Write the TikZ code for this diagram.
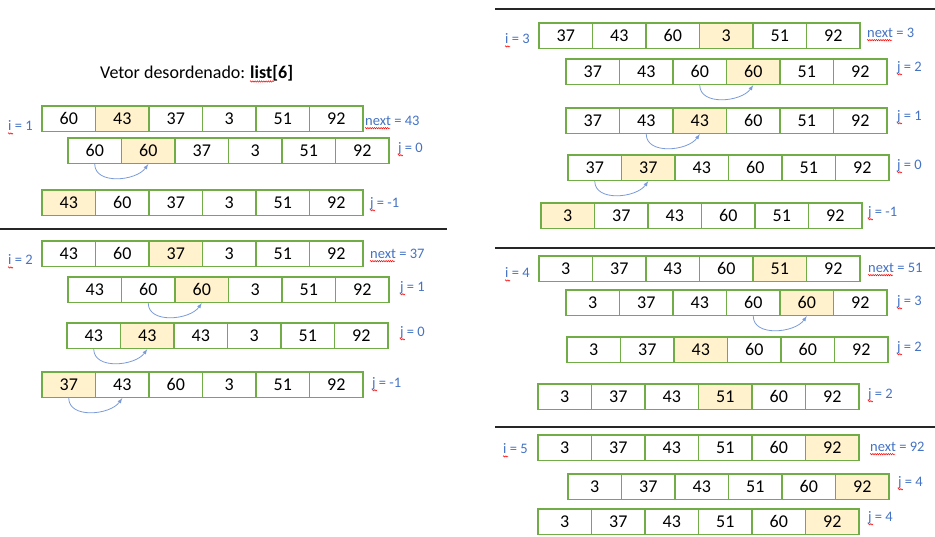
\documentclass[tikz,border=0pt]{standalone}
\usepackage{fontspec}
\setmainfont{Carlito}
\usepackage{tikz}
\usetikzlibrary{positioning,decorations.pathmorphing}

\definecolor{cellgreen}{HTML}{70AD47}
\definecolor{hlfill}{HTML}{FFF2CC}
\definecolor{labelblue}{HTML}{4472C4}
\definecolor{arrowblue}{HTML}{7B9BD8}

% one row of the vector: name, left x, top y, highlighted cell, values
\newcommand{\vrow}[5]{%
	\foreach \v [count=\k] in {#5} {
		\ifnum\k=#4 \def\cellfill{hlfill}\else\def\cellfill{white}\fi
		\node[cell,fill=\cellfill] (#1-\k) at ({#2+(\k-0.5)*53.5},{-#3-12.75}) {\v};
	}%
}

\begin{document}
\begin{tikzpicture}[x=1pt,y=1pt,
	cell/.style={draw=cellgreen,line width=1.2pt,minimum width=53.5pt,minimum height=25.5pt,inner sep=0pt,font=\fontsize{18}{21}\selectfont},
	lbl/.style={anchor=west,inner sep=0pt,text=labelblue,font=\fontsize{14.5}{16}\selectfont},
	shift arrow/.style={-latex,draw=arrowblue,line width=0.8pt},
	sep/.style={draw=black!85,line width=1.2pt},
	squiggle/.style={draw=red,line width=0.5pt,decorate,decoration={snake,amplitude=0.7pt,segment length=2.2pt}}]
	
	\useasboundingbox (0,0) rectangle (935,-537);
	
	\node[font=\fontsize{18}{21}\selectfont,inner sep=0pt,anchor=base west] (title) at (100,-79) {Vetor desordenado:};
	\node[font=\fontsize{18}{21}\selectfont\bfseries,inner sep=0pt,anchor=base west] (titlelist) at ([xshift=4.5pt]title.base east) {list[6]};
	
	% i = 1
	\vrow{A}{42}{106}{2}{60,43,37,3,51,92}
	\vrow{B}{68}{138}{2}{60,60,37,3,51,92}
	\vrow{C}{42}{190}{1}{43,60,37,3,51,92}
	\node[lbl] (iA) at (8,-126) {i = 1};
	\node[lbl] (nA) at (365,-121) {next = 43};
	\node[lbl] (jB) at (398,-149) {j = 0};
	\node[lbl] (jC) at (370,-204) {j = -1};
	\draw[shift arrow] (B-1.south) to[out=-90,in=-125] (B-2.south);
	
	\draw[sep] (0,-229) -- (447,-229);
	
	% i = 2
	\vrow{D}{42}{241}{3}{43,60,37,3,51,92}
	\vrow{E}{68}{277}{3}{43,60,60,3,51,92}
	\vrow{F}{67}{323}{2}{43,43,43,3,51,92}
	\vrow{G}{42}{372}{1}{37,43,60,3,51,92}
	\node[lbl] (iD) at (8,-260) {i = 2};
	\node[lbl] (nD) at (370,-254) {next = 37};
	\node[lbl] (jE) at (400,-288) {j = 1};
	\node[lbl] (jF) at (400,-333) {j = 0};
	\node[lbl] (jG) at (372,-384) {j = -1};
	\draw[shift arrow] (E-2.south) to[out=-90,in=-125] (E-3.south);
	\draw[shift arrow] (F-1.south) to[out=-90,in=-125] (F-2.south);
	\draw[shift arrow] (G-1.south) to[out=-90,in=-125] (G-2.south);
	
	\draw[sep] (495,-9) -- (935,-9);
	
	% i = 3
	\vrow{H}{539}{23}{4}{37,43,60,3,51,92}
	\vrow{I}{566}{59}{4}{37,43,60,60,51,92}
	\vrow{J}{566}{108}{3}{37,43,43,60,51,92}
	\vrow{K}{568}{155}{2}{37,37,43,60,51,92}
	\vrow{L}{541}{203}{1}{3,37,43,60,51,92}
	\node[lbl] (iH) at (505,-39) {i = 3};
	\node[lbl] (nH) at (867,-33) {next = 3};
	\node[lbl] (jI) at (897,-68) {j = 2};
	\node[lbl] (jJ) at (897,-117) {j = 1};
	\node[lbl] (jK) at (897,-166) {j = 0};
	\node[lbl] (jL) at (868,-213) {j = -1};
	\draw[shift arrow] (I-3.south) to[out=-90,in=-125] (I-4.south);
	\draw[shift arrow] (J-2.south) to[out=-90,in=-125] (J-3.south);
	\draw[shift arrow] (K-1.south) to[out=-90,in=-125] (K-2.south);
	
	\draw[sep] (495,-248) -- (935,-248);
	
	% i = 4
	\vrow{M}{539}{256}{5}{3,37,43,60,51,92}
	\vrow{N}{566}{290}{5}{3,37,43,60,60,92}
	\vrow{O}{567}{337}{3}{3,37,43,60,60,92}
	\vrow{P}{538}{384}{4}{3,37,43,51,60,92}
	\node[lbl] (iM) at (505,-273) {i = 4};
	\node[lbl] (nM) at (868,-268) {next = 51};
	\node[lbl] (jN) at (897,-302) {j = 3};
	\node[lbl] (jO) at (897,-348) {j = 2};
	\node[lbl] (jP) at (868,-395) {j = 2};
	\draw[shift arrow] (N-4.south) to[out=-90,in=-125] (N-5.south);
	
	\draw[sep] (495,-427) -- (935,-427);
	
	% i = 5
	\vrow{Q}{538}{435}{6}{3,37,43,51,60,92}
	\vrow{R}{568}{474}{6}{3,37,43,51,60,92}
	\vrow{S}{538}{509}{6}{3,37,43,51,60,92}
	\node[lbl] (iQ) at (503,-449) {i = 5};
	\node[lbl] (nQ) at (870,-447) {next = 92};
	\node[lbl] (jR) at (898,-483) {j = 4};
	\node[lbl] (jS) at (868,-518) {j = 4};
	
	% spell check marks
	\foreach \n in {iA,jB,jC,iD,jE,jF,jG,iH,jI,jJ,jK,jL,iM,jN,jO,jP,iQ,jR,jS}
		\draw[squiggle] ([yshift=-2.5pt]\n.base west) -- ++(5,0);
	\foreach \n in {nA,nD,nH,nM,nQ}
		\draw[squiggle] ([yshift=-2.5pt]\n.base west) -- ++(25,0);
	\draw[squiggle] ([yshift=-2.5pt]titlelist.base west) -- ++(24,0);
	
\end{tikzpicture}
\end{document}
